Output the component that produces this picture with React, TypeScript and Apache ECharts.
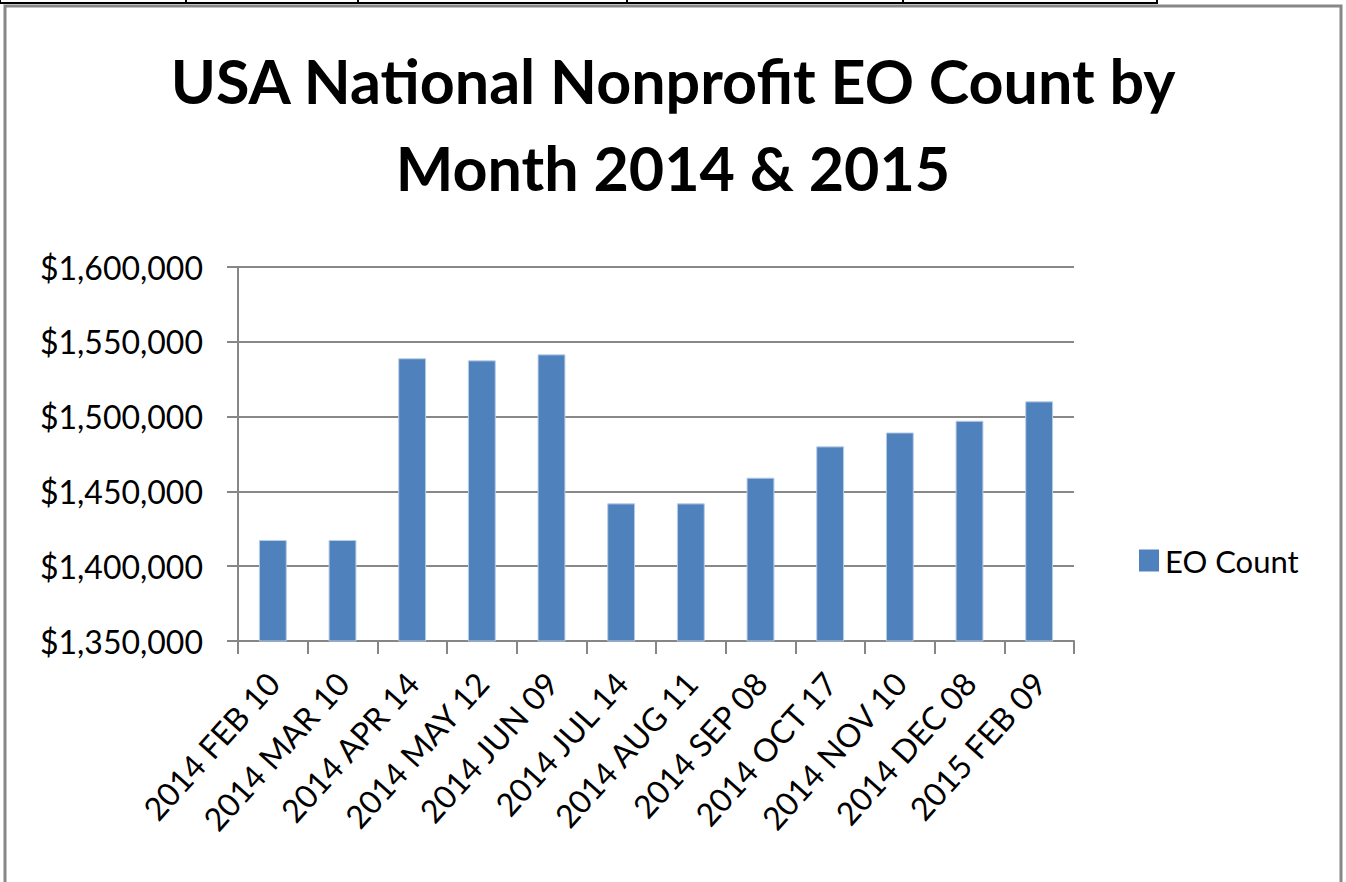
import React, { useEffect, useRef } from "react";
import * as echarts from "echarts";

const categories = [
  "2014 FEB 10",
  "2014 MAR 10",
  "2014 APR 14",
  "2014 MAY 12",
  "2014 JUN 09",
  "2014 JUL 14",
  "2014 AUG 11",
  "2014 SEP 08",
  "2014 OCT 17",
  "2014 NOV 10",
  "2014 DEC 08",
  "2015 FEB 09",
];
const eoCount = [
  1417500, 1417500, 1539000, 1537600, 1541600, 1442000, 1442000, 1459200,
  1480100, 1489400, 1497200, 1510200,
];
const seriesName = "EO Count";
const titleText = "USA National Nonprofit EO Count by\nMonth 2014 & 2015";
const yMin = 1350000;
const yMax = 1600000;
const yStep = 50000;
const tableTicks = [0, 186, 358, 627, 903, 1157];

const FONT = "Lato, 'Open Sans', sans-serif";

export default function App() {
  const ref = useRef<HTMLDivElement>(null);
  useEffect(() => {
    if (!ref.current) return;
    const chart = echarts.init(ref.current, null, { renderer: "svg" });
    chart.setOption({
      animation: false,
      backgroundColor: "#ffffff",
      title: {
        text: titleText,
        left: "center",
        top: 32,
        textStyle: {
          fontFamily: FONT,
          fontWeight: "bold",
          fontSize: 61,
          lineHeight: 87,
          color: "#000000",
        },
      },
      legend: {
        data: [seriesName],
        orient: "vertical",
        left: 1134,
        top: 540,
        icon: "rect",
        itemWidth: 20,
        itemHeight: 22,
        itemGap: 10,
        itemStyle: { borderWidth: 0 },
        textStyle: { fontFamily: FONT, fontSize: 31, color: "#000000", padding: [0, 0, 0, 1] },
      },
      grid: { left: 238, right: 272, top: 267, bottom: 241, containLabel: false },
      xAxis: {
        type: "category",
        data: categories,
        boundaryGap: true,
        axisLine: { lineStyle: { color: "#868686", width: 2 } },
        axisTick: {
          show: true,
          alignWithLabel: false,
          length: 13,
          lineStyle: { color: "#868686", width: 2 },
        },
        axisLabel: {
          rotate: 48,
          interval: 0,
          margin: 36,
          fontFamily: FONT,
          fontSize: 32,
          color: "#000000",
        },
      },
      yAxis: {
        type: "value",
        min: yMin,
        max: yMax,
        interval: yStep,
        axisLine: { show: true, lineStyle: { color: "#868686", width: 2 } },
        axisTick: { show: true, length: 11, lineStyle: { color: "#868686", width: 2 } },
        splitLine: { lineStyle: { color: "#888888", width: 2 } },
        axisLabel: {
          margin: 35,
          fontFamily: FONT,
          fontSize: 32,
          color: "#000000",
          formatter: (v: number) => "$" + v.toLocaleString("en-US"),
        },
      },
      series: [
        {
          name: seriesName,
          type: "bar",
          data: eoCount,
          barWidth: "40%",
          itemStyle: { color: "#4F81BD", borderColor: "#B9CDE5", borderWidth: 1 },
        },
      ],
      graphic: [
        {
          type: "rect",
          shape: { x: 5, y: 6, width: 1336, height: 890 },
          style: { fill: "none", stroke: "#878787", lineWidth: 3 },
          silent: true,
        },
        {
          type: "line",
          shape: { x1: 0, y1: 3, x2: 1157, y2: 3 },
          style: { stroke: "#000000", lineWidth: 2 },
          silent: true,
        },
        ...tableTicks.map((x) => ({
          type: "line",
          shape: { x1: x, y1: 0, x2: x, y2: 4 },
          style: { stroke: "#000000", lineWidth: 2 },
          silent: true,
        })),
      ],
    });
    return () => chart.dispose();
  }, []);
  return (
    <div
      ref={ref}
      style={{ position: "fixed", left: 0, top: 0, width: 1346, height: 882 }}
    />
  );
}
